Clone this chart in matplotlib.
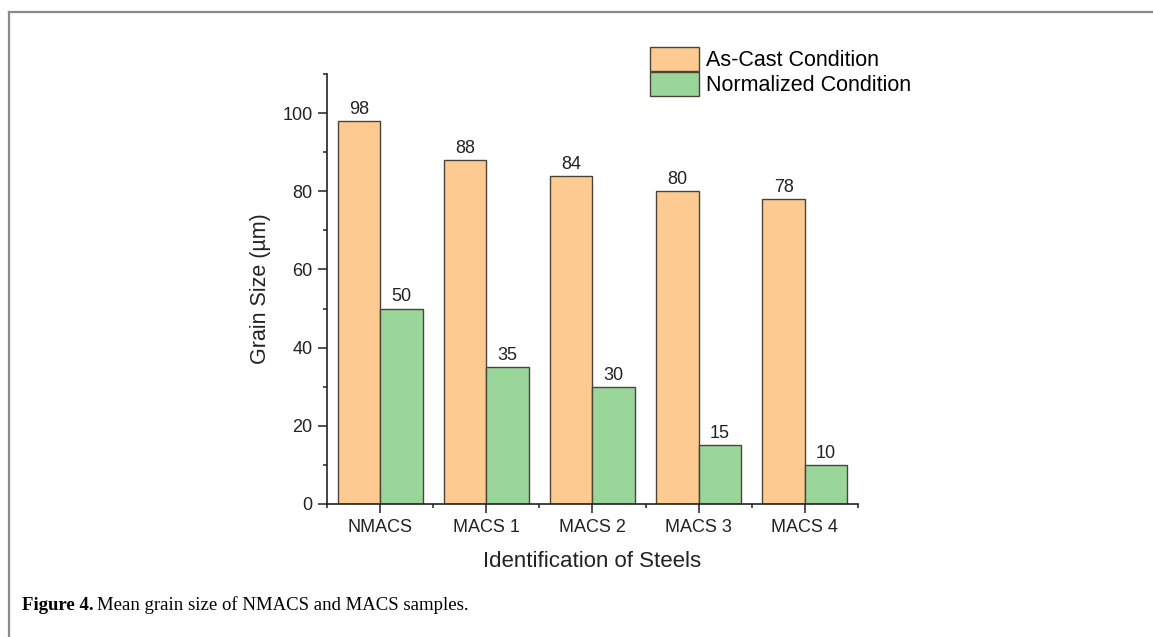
import matplotlib
matplotlib.use("Agg")
import matplotlib.pyplot as plt
from matplotlib.lines import Line2D
from matplotlib.ticker import MultipleLocator
import numpy as np

# grain size data (um)
steels = ["NMACS", "MACS 1", "MACS 2", "MACS 3", "MACS 4"]
as_cast = [98, 88, 84, 80, 78]
normalized = [50, 35, 30, 15, 10]

ORANGE = "#FDCB92"
GREEN = "#9AD59A"
EDGE = "#4a4338"
BW = 0.4

plt.rcParams["font.family"] = ["Liberation Sans", "DejaVu Sans"]

fig = plt.figure(figsize=(11.53, 6.37), dpi=100)
ax = fig.add_axes([0.2836, 0.2088, 0.4605, 0.675])

x = np.arange(len(steels))
b1 = ax.bar(x - BW / 2, as_cast, BW, color=ORANGE, edgecolor=EDGE, linewidth=1.0,
            label="As-Cast Condition")
b2 = ax.bar(x + BW / 2, normalized, BW, color=GREEN, edgecolor=EDGE, linewidth=1.0,
            label="Normalized Condition")

for bars, vals in ((b1, as_cast), (b2, normalized)):
    for rect, v in zip(bars, vals):
        ax.text(rect.get_x() + rect.get_width() / 2, v + 0.8, str(v),
                ha="center", va="bottom", fontsize=13, color="#222222")

ax.set_xlim(-0.5, 4.5)
ax.set_ylim(0, 110)
ax.set_xticks(x)
ax.set_xticklabels(steels)
ax.set_xticks(np.arange(-0.5, 5, 1), minor=True)
ax.set_yticks(np.arange(0, 101, 20))
ax.yaxis.set_minor_locator(MultipleLocator(10))

for side in ("top", "right"):
    ax.spines[side].set_visible(False)
for side in ("left", "bottom"):
    ax.spines[side].set_linewidth(1.2)
    ax.spines[side].set_color("#222222")

ax.tick_params(which="major", direction="out", length=6.5, width=1.1,
               labelsize=13, colors="#222222", pad=4)
ax.tick_params(which="minor", direction="out", length=3, width=1.1, colors="#222222")

ax.set_xlabel("Identification of Steels", fontsize=16, color="#222222", labelpad=11)
ax.set_ylabel("Grain Size (\u00b5m)", fontsize=15.5, color="#222222", labelpad=8)

fig.legend(handles=[b1, b2], loc="upper left", bbox_to_anchor=(0.556, 0.94),
           frameon=False, fontsize=15.5, handlelength=2.3, handleheight=1.35,
           handletextpad=0.3, labelspacing=0.05, borderaxespad=0)

# caption below the chart
fig.text(0.019, 0.05, "Figure 4.", fontsize=13.5, fontweight="bold",
         family="Liberation Serif", va="center", ha="left")
fig.text(0.0845, 0.05, "Mean grain size of NMACS and MACS samples.", fontsize=13.5,
         family="Liberation Serif", va="center", ha="left")

# open frame around the figure
fig.add_artist(Line2D([0.008, 0.008], [0.0, 0.981], transform=fig.transFigure,
                      color="#8a8a8a", linewidth=1.6))
fig.add_artist(Line2D([0.008, 1.0], [0.981, 0.981], transform=fig.transFigure,
                      color="#8a8a8a", linewidth=1.6))

fig.savefig("out.png", dpi=100)
